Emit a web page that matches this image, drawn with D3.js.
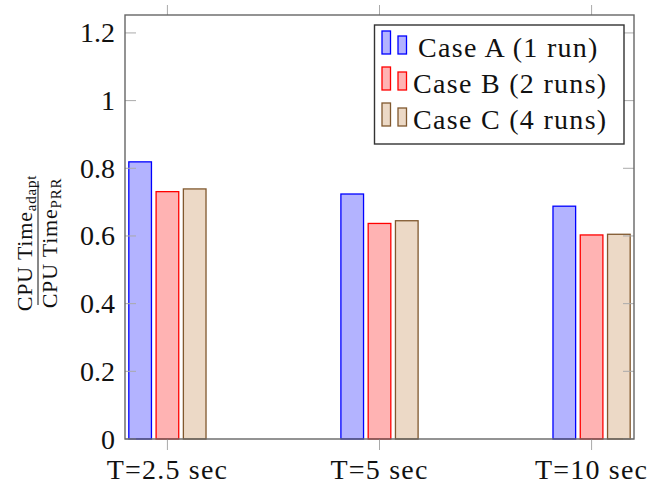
<!DOCTYPE html>
<html>
<head>
<meta charset="utf-8">
<script src="https://cdn.jsdelivr.net/npm/d3@7"></script>
<style>
  body { margin: 0; background: #fff; }
</style>
</head>
<body>
<svg id="chart" width="651" height="485" font-family="'Liberation Serif', 'DejaVu Serif', serif"></svg>
<script>
// categories along x, one group of bars per setting
const categories = ["T=2.5 sec", "T=5 sec", "T=10 sec"];
const seriesNames = ["Case A (1 run)", "Case B (2 runs)", "Case C (4 runs)"];
// CPU time ratio
const caseA = [0.819, 0.724, 0.688];
const caseB = [0.731, 0.637, 0.603];
const caseC = [0.739, 0.645, 0.605];
const yTicks = [0, 0.2, 0.4, 0.6, 0.8, 1, 1.2];

const seriesValues = [caseA, caseB, caseC];
const strokes = ["#0000ff", "#ff0000", "#80582e"];
const fills = ["#b3b3ff", "#ffb3b3", "#ecd9c6"];

// plot box
const box = { left: 125, right: 634, top: 15, bottom: 439 };

const svg = d3.select("#chart");

// x positions of the groups, y value scale
const x = d3.scalePoint().domain(categories).range([box.left, box.right]).padding(0.2);
const y = d3.scaleLinear().domain([0, 1.253]).range([box.bottom, box.top]);
// offset of each series inside a group
const inner = d3.scaleBand().domain(seriesNames).range([-38.6, 38.6]).paddingInner(0.17);

// bars
const rows = [];
categories.forEach((c, i) => {
    seriesNames.forEach((s, j) => rows.push({ cat: c, series: s, j: j, value: seriesValues[j][i] }));
});

svg.append("g").attr("class", "bars")
    .selectAll("rect")
    .data(rows)
    .join("rect")
        .attr("x", d => x(d.cat) + inner(d.series))
        .attr("y", d => y(d.value))
        .attr("width", inner.bandwidth())
        .attr("height", d => y(0) - y(d.value))
        .attr("fill", d => fills[d.j])
        .attr("stroke", d => strokes[d.j])
        .attr("stroke-width", 1.3);

// y ticks, inside on both sides
const tickColor = "#aaa";
const yt = svg.append("g").attr("class", "yticks");
yt.selectAll("line.l").data(yTicks).join("line").attr("class", "l")
    .attr("x1", box.left).attr("x2", box.left + 11)
    .attr("y1", d => y(d)).attr("y2", d => y(d))
    .attr("stroke", tickColor).attr("stroke-width", 1);
yt.selectAll("line.r").data(yTicks).join("line").attr("class", "r")
    .attr("x1", box.right - 11).attr("x2", box.right)
    .attr("y1", d => y(d)).attr("y2", d => y(d))
    .attr("stroke", tickColor).attr("stroke-width", 1);
yt.selectAll("text").data(yTicks).join("text")
    .attr("x", 115).attr("y", d => y(d)).attr("dy", "0.34em")
    .attr("text-anchor", "end")
    .attr("fill", "#111")
    .attr("font-size", 28)
    .text(d => d3.format("~g")(d));

// x ticks, outside on top and bottom
const xt = svg.append("g").attr("class", "xticks");
xt.selectAll("line.b").data(categories).join("line").attr("class", "b")
    .attr("x1", d => x(d)).attr("x2", d => x(d))
    .attr("y1", box.bottom).attr("y2", box.bottom + 11)
    .attr("stroke", tickColor).attr("stroke-width", 1);
xt.selectAll("line.t").data(categories).join("line").attr("class", "t")
    .attr("x1", d => x(d)).attr("x2", d => x(d))
    .attr("y1", box.top - 10).attr("y2", box.top)
    .attr("stroke", tickColor).attr("stroke-width", 1);
xt.selectAll("text").data(categories).join("text")
    .attr("x", d => x(d)).attr("y", 479)
    .attr("text-anchor", "middle")
    .attr("fill", "#111")
    .attr("font-size", 28)
    .attr("letter-spacing", 1.2)
    .text(d => d);

// frame
svg.append("rect")
    .attr("x", box.left).attr("y", box.top)
    .attr("width", box.right - box.left).attr("height", box.bottom - box.top)
    .attr("fill", "none").attr("stroke", "#666").attr("stroke-width", 1.4);

// y label as a fraction
const yl = svg.append("g").attr("transform", "translate(38,243) rotate(-90)");
yl.append("line").attr("x1", -62).attr("x2", 62).attr("stroke", "#111").attr("stroke-width", 1);
const num = yl.append("text").attr("y", -6).attr("text-anchor", "middle")
    .attr("fill", "#111").attr("font-size", 22).attr("letter-spacing", 0.8);
num.append("tspan").text("CPU Time");
num.append("tspan").attr("dy", 4).attr("font-size", 15).text("adapt");
const den = yl.append("text").attr("y", 19).attr("text-anchor", "middle")
    .attr("fill", "#111").attr("font-size", 22).attr("letter-spacing", 0.8);
den.append("tspan").text("CPU Time");
den.append("tspan").attr("dy", 4).attr("font-size", 15).text("PRR");

// legend
const lg = svg.append("g").attr("class", "legend");
lg.append("rect")
    .attr("x", 374.5).attr("y", 25).attr("width", 249.5).attr("height", 119)
    .attr("fill", "#fff").attr("stroke", "#333").attr("stroke-width", 1.4);
const items = lg.selectAll("g.item").data(seriesNames).join("g")
    .attr("class", "item")
    .attr("transform", (d, i) => `translate(0,${i * 36})`);
items.append("rect")
    .attr("x", 382).attr("y", 31).attr("width", 8.5).attr("height", 23)
    .attr("fill", (d, i) => fills[i]).attr("stroke", (d, i) => strokes[i]).attr("stroke-width", 1.3);
items.append("rect")
    .attr("x", 398).attr("y", 36).attr("width", 8.5).attr("height", 18)
    .attr("fill", (d, i) => fills[i]).attr("stroke", (d, i) => strokes[i]).attr("stroke-width", 1.3);
items.append("text")
    .attr("x", (d, i) => i === 0 ? 418 : 413).attr("y", 57)
    .attr("fill", "#111")
    .attr("font-size", 28)
    .attr("letter-spacing", 1.3)
    .text(d => d);
</script>
</body>
</html>
